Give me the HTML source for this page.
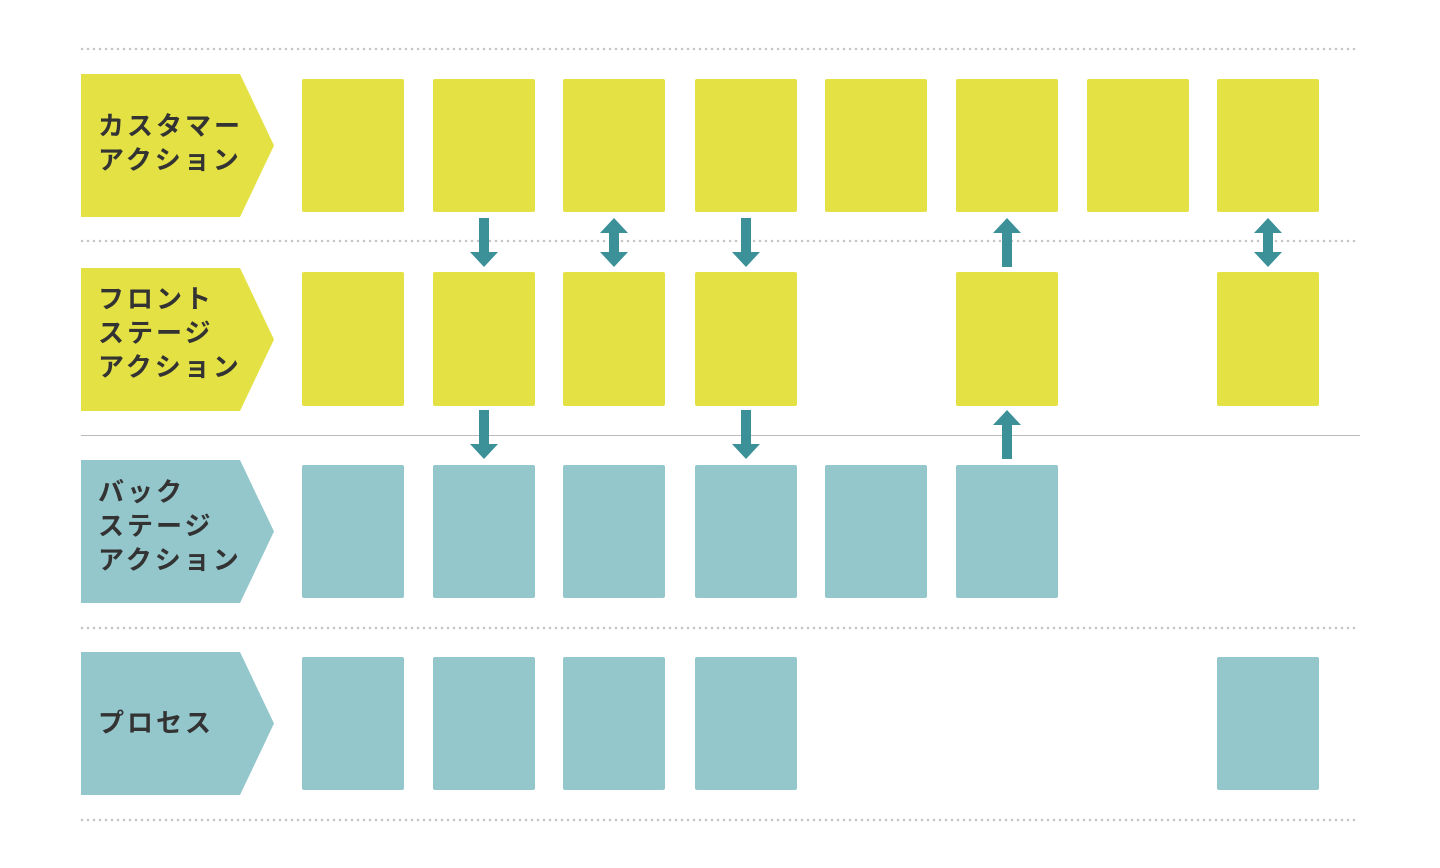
<!DOCTYPE html>
<html><head><meta charset="utf-8"><style>
html,body{margin:0;padding:0;background:#fff;}
svg{display:block}
text{font-family:"Liberation Sans","Noto Sans CJK JP",sans-serif;font-weight:bold;font-size:26px;fill:#333;letter-spacing:3px;dominant-baseline:central}
</style></head><body>
<svg width="1440" height="868" viewBox="0 0 1440 868" xmlns="http://www.w3.org/2000/svg">
<g stroke="#c4c4c4" stroke-width="2.5" stroke-dasharray="0 6" stroke-linecap="round">
<line x1="82" y1="49" x2="1360" y2="49"/>
<line x1="82" y1="241" x2="1360" y2="241"/>
<line x1="82" y1="628" x2="1360" y2="628"/>
<line x1="82" y1="820" x2="1360" y2="820"/>
</g>
<line x1="81" y1="435.5" x2="1360" y2="435.5" stroke="#bbb" stroke-width="1"/>
<polygon points="81,74 240,74 274,145.5 240,217 81,217" fill="#e3e143"/>
<polygon points="81,268 240,268 274,339.5 240,411 81,411" fill="#e3e143"/>
<polygon points="81,460 240,460 274,531.5 240,603 81,603" fill="#94c7cc"/>
<polygon points="81,652 240,652 274,723.5 240,795 81,795" fill="#94c7cc"/>
<text x="98" y="126">カスタマー</text>
<text x="98" y="160">アクション</text>
<text x="98" y="299">フロント</text>
<text x="98" y="333">ステージ</text>
<text x="98" y="367">アクション</text>
<text x="98" y="492">バック</text>
<text x="98" y="526">ステージ</text>
<text x="98" y="560">アクション</text>
<text x="98" y="723">プロセス</text>
<g fill="#e3e143">
<rect x="302" y="79" width="102" height="133" rx="2"/>
<rect x="433" y="79" width="102" height="133" rx="2"/>
<rect x="563" y="79" width="102" height="133" rx="2"/>
<rect x="695" y="79" width="102" height="133" rx="2"/>
<rect x="825" y="79" width="102" height="133" rx="2"/>
<rect x="956" y="79" width="102" height="133" rx="2"/>
<rect x="1087" y="79" width="102" height="133" rx="2"/>
<rect x="1217" y="79" width="102" height="133" rx="2"/>
<rect x="302" y="272" width="102" height="134" rx="2"/>
<rect x="433" y="272" width="102" height="134" rx="2"/>
<rect x="563" y="272" width="102" height="134" rx="2"/>
<rect x="695" y="272" width="102" height="134" rx="2"/>
<rect x="956" y="272" width="102" height="134" rx="2"/>
<rect x="1217" y="272" width="102" height="134" rx="2"/>
</g>
<g fill="#94c7cc">
<rect x="302" y="465" width="102" height="133" rx="2"/>
<rect x="433" y="465" width="102" height="133" rx="2"/>
<rect x="563" y="465" width="102" height="133" rx="2"/>
<rect x="695" y="465" width="102" height="133" rx="2"/>
<rect x="825" y="465" width="102" height="133" rx="2"/>
<rect x="956" y="465" width="102" height="133" rx="2"/>
<rect x="302" y="657" width="102" height="133" rx="2"/>
<rect x="433" y="657" width="102" height="133" rx="2"/>
<rect x="563" y="657" width="102" height="133" rx="2"/>
<rect x="695" y="657" width="102" height="133" rx="2"/>
<rect x="1217" y="657" width="102" height="133" rx="2"/>
</g>
<g fill="#3c9199">
<polygon points="479,218 489,218 489,252 498,252 484,267 470,252 479,252"/>
<polygon points="741,218 751,218 751,252 760,252 746,267 732,252 741,252"/>
<polygon points="614,218 628,233 619,233 619,252 628,252 614,267 600,252 609,252 609,233 600,233"/>
<polygon points="1268,218 1282,233 1273,233 1273,252 1282,252 1268,267 1254,252 1263,252 1263,233 1254,233"/>
<polygon points="1007,218 1021,233 1012,233 1012,267 1002,267 1002,233 993,233"/>
<polygon points="479,410 489,410 489,444 498,444 484,459 470,444 479,444"/>
<polygon points="741,410 751,410 751,444 760,444 746,459 732,444 741,444"/>
<polygon points="1007,410 1021,425 1012,425 1012,459 1002,459 1002,425 993,425"/>
</g>
</svg>
</body></html>
